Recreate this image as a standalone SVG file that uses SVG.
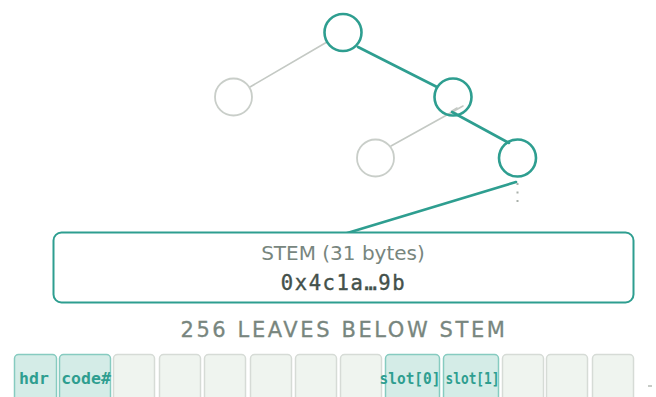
<svg xmlns="http://www.w3.org/2000/svg" width="656" height="397" viewBox="0 0 656 397">
  <style>
    .node-on { fill: none; stroke: #2e9e90; stroke-width: 2.6; }
    .node-off { fill: none; stroke: #c9cec9; stroke-width: 1.8; }
    .edge-on { stroke: #2e9e90; stroke-width: 2.6; stroke-linecap: round; fill: none; }
    .edge-off { stroke: #c4c9c4; stroke-width: 1.6; stroke-linecap: round; fill: none; }
    .label { font-family: "DejaVu Sans", "Liberation Sans", sans-serif; fill: #78867e; }
    .mono { font-family: "DejaVu Sans Mono", "Liberation Mono", monospace; }
    .cell-on { fill: #d4ece7; stroke: #86cbc0; stroke-width: 1.5; }
    .cell-off { fill: #eff4ef; stroke: #d6dbd6; stroke-width: 1.5; }
    .cell-text { font-family: "DejaVu Sans Mono", "Liberation Mono", monospace; font-size: 16.5px; font-weight: bold; fill: #2e9e90; text-anchor: middle; }
  </style>

  <!-- tree edges -->
  <g id="connectors">
    <line class="edge-off" x1="327" y1="42" x2="250" y2="87"/>
    <line class="edge-on" x1="358" y1="47" x2="437" y2="87"/>
    <line class="edge-off" x1="391" y1="146" x2="463" y2="106"/>
    <polyline class="edge-off" points="457,108 452,111 456,113" stroke-width="1.4"/>
    <line class="edge-on" x1="452" y1="112" x2="509" y2="143"/>
    <line class="edge-on" x1="516" y1="182" x2="344" y2="234"/>
    <line x1="517.5" y1="183" x2="517.5" y2="203" stroke="#a9b0aa" stroke-width="2" stroke-dasharray="2 6.5"/>
  </g>

  <!-- tree nodes -->
  <g id="node-root"><circle class="node-on" cx="343" cy="32.5" r="18.5"/></g>
  <g id="node-l"><circle class="node-off" cx="233.5" cy="97" r="18.5"/></g>
  <g id="node-r"><circle class="node-on" cx="453" cy="97" r="18.5"/></g>
  <g id="node-rl"><circle class="node-off" cx="375.5" cy="158" r="18.5"/></g>
  <g id="node-rr"><circle class="node-on" cx="517.5" cy="158" r="18.5"/></g>

  <!-- stem box -->
  <g id="stem">
    <rect x="53.5" y="232.5" width="580" height="70" rx="8" fill="#ffffff" stroke="#2e9e90" stroke-width="2"/>
    <text class="label" x="343" y="260" font-size="20" text-anchor="middle">STEM (31 bytes)</text>
    <text class="mono" x="343.5" y="290" font-size="20.5" letter-spacing="1.6" fill="#44514b" stroke="#44514b" stroke-width="0.4" text-anchor="middle">0x4c1a…9b</text>
  </g>

  <g id="leaves-title">
    <text class="label" x="344" y="337" font-size="21" letter-spacing="2.6" stroke="#78867e" stroke-width="0.3" text-anchor="middle">256 LEAVES BELOW STEM</text>
  </g>

  <!-- leaf slots -->
  <g id="leaves">
    <g id="leaf-hdr"><rect class="cell-on" x="14.5" y="354.5" width="42" height="52" rx="4"/><text class="cell-text" x="34" y="384">hdr</text></g>
    <g id="leaf-code"><rect class="cell-on" x="59.5" y="354.5" width="51" height="52" rx="4"/><text class="cell-text" x="86" y="384">code#</text></g>
    <g id="leaf-2"><rect class="cell-off" x="113.5" y="354.5" width="41" height="52" rx="4"/></g>
    <g id="leaf-3"><rect class="cell-off" x="159.5" y="354.5" width="41" height="52" rx="4"/></g>
    <g id="leaf-4"><rect class="cell-off" x="204.5" y="354.5" width="41" height="52" rx="4"/></g>
    <g id="leaf-5"><rect class="cell-off" x="250.5" y="354.5" width="41" height="52" rx="4"/></g>
    <g id="leaf-6"><rect class="cell-off" x="295.5" y="354.5" width="41" height="52" rx="4"/></g>
    <g id="leaf-7"><rect class="cell-off" x="340.5" y="354.5" width="41" height="52" rx="4"/></g>
    <g id="leaf-slot0"><rect class="cell-on" x="385.5" y="354.5" width="54" height="52" rx="4"/><text class="cell-text" x="410" y="384" textLength="61" lengthAdjust="spacingAndGlyphs">slot[0]</text></g>
    <g id="leaf-slot1"><rect class="cell-on" x="443.5" y="354.5" width="55" height="52" rx="4"/><text class="cell-text" x="472.5" y="384" textLength="54" lengthAdjust="spacingAndGlyphs">slot[1]</text></g>
    <g id="leaf-10"><rect class="cell-off" x="502.5" y="354.5" width="41" height="52" rx="4"/></g>
    <g id="leaf-11"><rect class="cell-off" x="546.5" y="354.5" width="41" height="52" rx="4"/></g>
    <g id="leaf-12"><rect class="cell-off" x="592.5" y="354.5" width="41" height="52" rx="4"/></g>
    <line x1="648" y1="386" x2="652" y2="386" stroke="#b5bbb5" stroke-width="1.5"/>
  </g>
</svg>
